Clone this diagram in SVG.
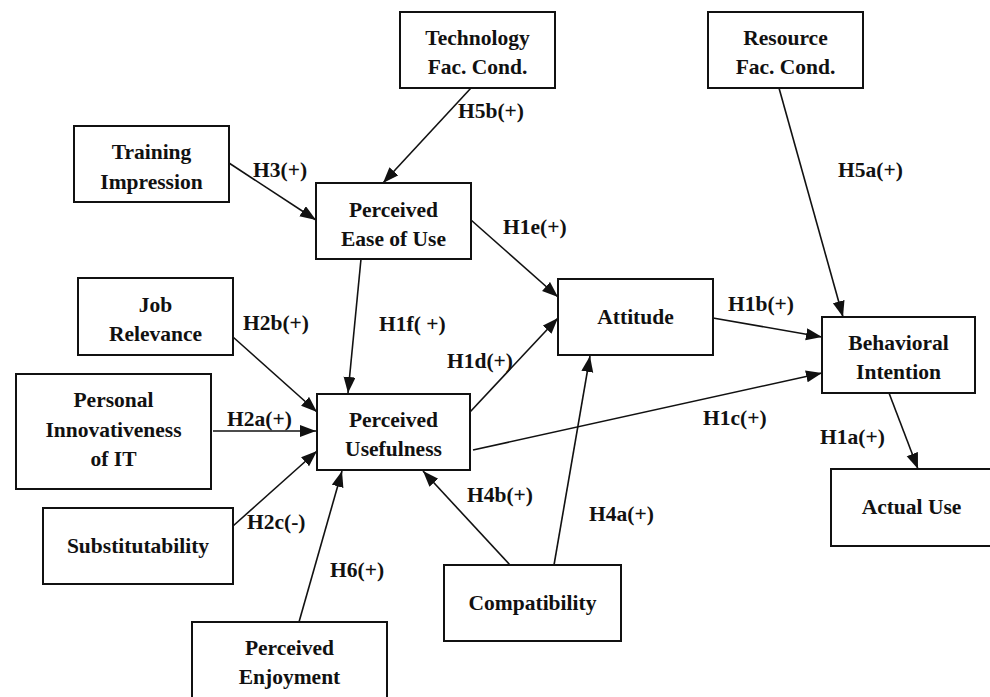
<svg xmlns="http://www.w3.org/2000/svg" width="990" height="697" viewBox="0 0 990 697">
<defs>
<marker id="ah" markerUnits="userSpaceOnUse" markerWidth="17" markerHeight="13" refX="16" refY="6" orient="auto">
<path d="M0,0 L16,6 L0,12 z" fill="#111"/>
</marker>
<style>
.box{fill:#fff;stroke:#111;stroke-width:2}
.t{font-family:"Liberation Serif","Times New Roman",serif;font-weight:bold;font-size:21.5px;fill:#111;text-anchor:middle}
.l{font-family:"Liberation Serif","Times New Roman",serif;font-weight:bold;font-size:21.5px;fill:#111}
.c{stroke:#111;stroke-width:1.6;fill:none;marker-end:url(#ah)}
</style>
</defs>
<rect width="990" height="697" fill="#fff"/>
<g id="connectors">
<line class="c" x1="471" y1="88" x2="383" y2="183"/>
<line class="c" x1="229" y1="163" x2="316" y2="220"/>
<line class="c" x1="471" y1="220" x2="558" y2="297"/>
<line class="c" x1="361" y1="259" x2="348" y2="393"/>
<line class="c" x1="233" y1="337" x2="317" y2="412"/>
<line class="c" x1="213" y1="431" x2="316" y2="431"/>
<line class="c" x1="233" y1="526" x2="317" y2="451"/>
<line class="c" x1="299" y1="622" x2="342" y2="471"/>
<line class="c" x1="510" y1="565" x2="423" y2="471"/>
<line class="c" x1="554" y1="565" x2="590" y2="356"/>
<line class="c" x1="470" y1="412" x2="558" y2="318"/>
<line class="c" x1="473" y1="450" x2="822" y2="373"/>
<line class="c" x1="713" y1="318" x2="822" y2="337"/>
<line class="c" x1="779" y1="88" x2="843" y2="317"/>
<line class="c" x1="889" y1="393" x2="918" y2="469"/>
</g>
<g id="labels">
<text class="l" x="458" y="118">H5b(+)</text>
<text class="l" x="253" y="177">H3(+)</text>
<text class="l" x="838" y="177">H5a(+)</text>
<text class="l" x="503" y="234">H1e(+)</text>
<text class="l" x="243" y="330">H2b(+)</text>
<text class="l" x="379" y="331">H1f( +)</text>
<text class="l" x="447" y="368">H1d(+)</text>
<text class="l" x="227" y="426">H2a(+)</text>
<text class="l" x="728" y="311">H1b(+)</text>
<text class="l" x="703" y="425">H1c(+)</text>
<text class="l" x="820" y="444">H1a(+)</text>
<text class="l" x="467" y="502">H4b(+)</text>
<text class="l" x="589" y="521">H4a(+)</text>
<text class="l" x="247" y="529">H2c(-)</text>
<text class="l" x="330" y="577">H6(+)</text>
</g>
<g id="tech">
<rect class="box" x="400" y="12" width="155" height="76"/>
<text class="t" x="477.5" y="45">Technology</text>
<text class="t" x="477.5" y="74">Fac. Cond.</text>
</g>
<g id="resource">
<rect class="box" x="708" y="12" width="155" height="76"/>
<text class="t" x="785.5" y="45">Resource</text>
<text class="t" x="785.5" y="74">Fac. Cond.</text>
</g>
<g id="training">
<rect class="box" x="74" y="126" width="155" height="76"/>
<text class="t" x="151.5" y="159">Training</text>
<text class="t" x="151.5" y="189">Impression</text>
</g>
<g id="peou">
<rect class="box" x="316" y="183" width="155" height="76"/>
<text class="t" x="393.5" y="217">Perceived</text>
<text class="t" x="393.5" y="246">Ease of Use</text>
</g>
<g id="job">
<rect class="box" x="78" y="278" width="155" height="77"/>
<text class="t" x="155.5" y="312">Job</text>
<text class="t" x="155.5" y="341">Relevance</text>
</g>
<g id="attitude">
<rect class="box" x="558" y="279" width="155" height="76"/>
<text class="t" x="635.5" y="324">Attitude</text>
</g>
<g id="bi">
<rect class="box" x="822" y="317" width="153" height="76"/>
<text class="t" x="898.5" y="350">Behavioral</text>
<text class="t" x="898.5" y="379">Intention</text>
</g>
<g id="pi">
<rect class="box" x="16" y="374" width="195" height="115"/>
<text class="t" x="113.5" y="407">Personal</text>
<text class="t" x="113.5" y="437">Innovativeness</text>
<text class="t" x="113.5" y="466">of IT</text>
</g>
<g id="pu">
<rect class="box" x="317" y="394" width="153" height="76"/>
<text class="t" x="393.5" y="427">Perceived</text>
<text class="t" x="393.5" y="456">Usefulness</text>
</g>
<g id="actual">
<rect class="box" x="831" y="469" width="161" height="77"/>
<text class="t" x="911.5" y="514">Actual Use</text>
</g>
<g id="subst">
<rect class="box" x="43" y="508" width="190" height="76"/>
<text class="t" x="138" y="553">Substitutability</text>
</g>
<g id="compat">
<rect class="box" x="444" y="565" width="177" height="76"/>
<text class="t" x="532.5" y="610">Compatibility</text>
</g>
<g id="enjoy">
<rect class="box" x="192" y="622" width="195" height="90"/>
<text class="t" x="289.5" y="655">Perceived</text>
<text class="t" x="289.5" y="684">Enjoyment</text>
</g>
</svg>
